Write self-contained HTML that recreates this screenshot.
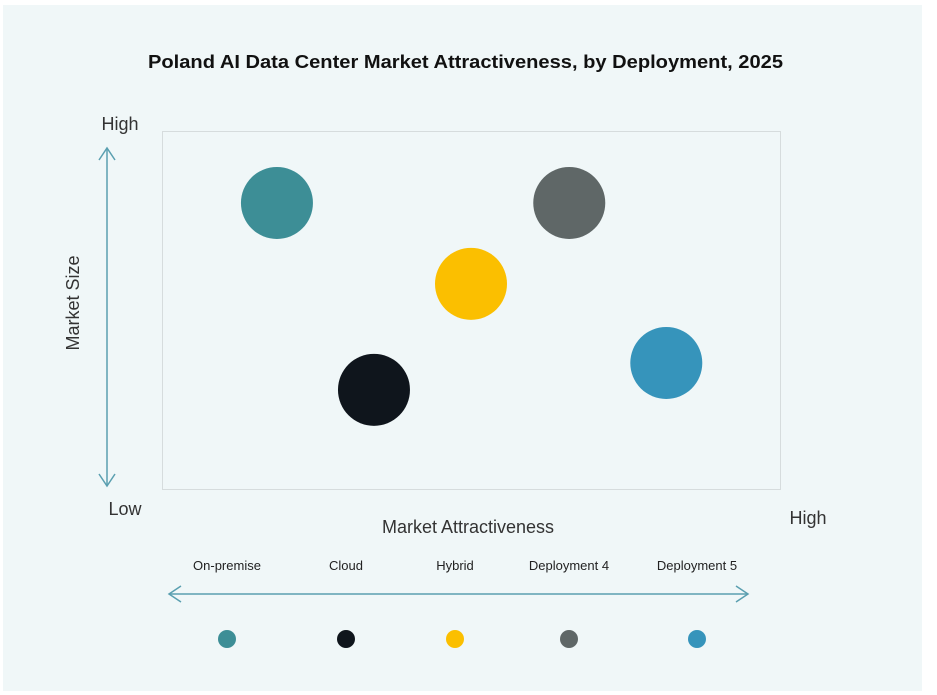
<!DOCTYPE html>
<html><head><meta charset="utf-8"><style>
body{margin:0;width:937px;height:695px;background:#fff;overflow:hidden;font-family:"Liberation Sans",sans-serif}
svg{position:absolute;left:0;top:0}
</style></head><body>
<svg width="937" height="695">
<rect x="3" y="5" width="919" height="686" fill="#f0f7f8"/>
<text x="148" y="68" textLength="635" lengthAdjust="spacingAndGlyphs" font-size="18" font-weight="bold" fill="#111">Poland AI Data Center Market Attractiveness,  by Deployment, 2025</text>
<rect x="162.5" y="131.5" width="618" height="358" fill="none" stroke="#d6dcdd"/>
<text x="120" y="130" text-anchor="middle" font-size="18" fill="#333">High</text>
<text x="125" y="515" text-anchor="middle" font-size="18" fill="#333">Low</text>
<text x="808" y="524" text-anchor="middle" font-size="18" fill="#333">High</text>
<text x="468" y="533" text-anchor="middle" font-size="18" fill="#333">Market Attractiveness</text>
<text transform="translate(79,303) rotate(-90)" text-anchor="middle" font-size="18" fill="#333">Market Size</text>
<g stroke="#5a9fb0" stroke-width="1.5" fill="none">
<line x1="107" y1="148" x2="107" y2="486"/><polyline points="99,160 107,148 115,160"/><polyline points="99,474 107,486 115,474"/></g>
<g stroke="#5a9fb0" stroke-width="1.5" fill="none">
<line x1="169" y1="594" x2="748" y2="594"/><polyline points="181,586 169,594 181,602"/><polyline points="736,586 748,594 736,602"/></g>
<g id="bubbles"></g><g id="legend"></g>
</svg>
<script>
const categories=["On-premise","Cloud","Hybrid","Deployment 4","Deployment 5"];
const attractiveness=[1.86,3.43,5.0,6.59,8.16];
const marketSize=[7.99,2.77,5.73,7.99,3.52];
const colors=["#3d8e96","#0f151c","#fbbf00","#5f6767","#3694bb"];
const legendX=[227,346,455,569,697];
const NS="http://www.w3.org/2000/svg";
const xs=v=>162+v/10*618, ys=v=>489-v/10*358;
const bg=document.getElementById('bubbles'), lg=document.getElementById('legend');
categories.forEach((c,i)=>{
 const b=document.createElementNS(NS,'circle');
 b.setAttribute('cx',xs(attractiveness[i]));b.setAttribute('cy',ys(marketSize[i]));b.setAttribute('r',36);b.setAttribute('fill',colors[i]);
 
 
 bg.appendChild(b);
 const t=document.createElementNS(NS,'text');
 t.setAttribute('x',legendX[i]);t.setAttribute('y',570);t.setAttribute('text-anchor','middle');t.setAttribute('font-size','13');t.setAttribute('fill','#222');
 t.textContent=c;
 
 
 lg.appendChild(t);
 const d=document.createElementNS(NS,'circle');
 d.setAttribute('cx',legendX[i]);d.setAttribute('cy',639);d.setAttribute('r',9);d.setAttribute('fill',colors[i]);
 
 
 lg.appendChild(d);
});
</script>
</body></html>
